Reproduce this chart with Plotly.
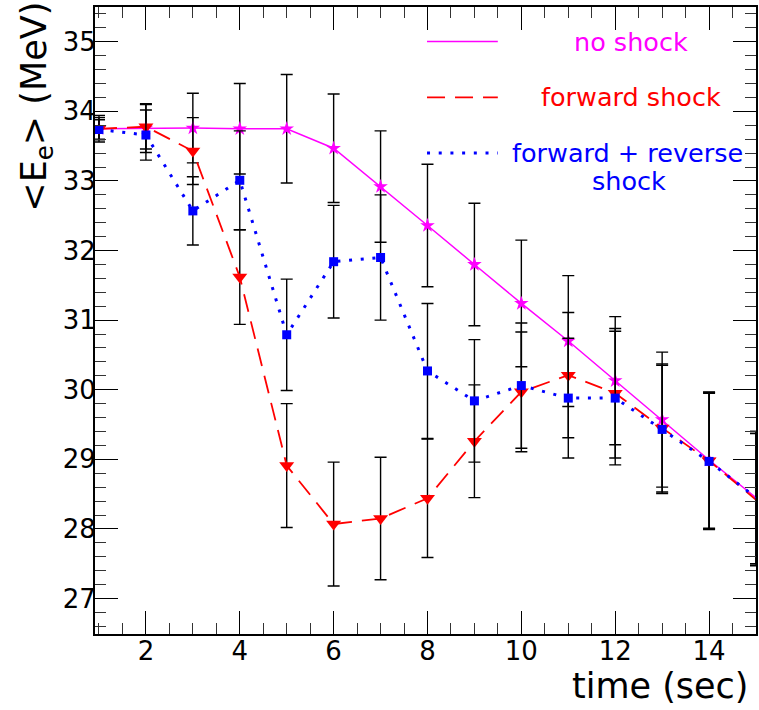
import plotly.graph_objects as go

# Mean electron-antineutrino energy vs. time for three supernova shock scenarios
time_s = [1, 2, 3, 4, 5, 6, 7, 8, 9, 10, 11, 12, 13, 14, 15]

no_shock = [33.75, 33.76, 33.76, 33.75, 33.75, 33.47, 32.92, 32.36, 31.80,
            31.24, 30.70, 30.13, 29.57, 28.99, 28.45]
no_shock_err = [0.19, 0.35, 0.50, 0.65, 0.78, 0.78, 0.80, 0.88, 0.88,
                0.91, 0.94, 0.92, 0.97, 0.98, 0.95]

forward = [33.75, 33.78, 33.43, 31.62, 28.91, 28.07, 28.15, 28.44, 29.26,
           29.97, 30.21, 29.95, 29.45, 28.98, 28.42]
forward_err = [0.16, 0.32, 0.48, 0.68, 0.89, 0.89, 0.88, 0.85, 0.81,
               0.86, 0.90, 0.93, 0.92, 0.98, 0.95]

fwd_rev = [33.74, 33.66, 32.57, 33.01, 30.79, 31.84, 31.90, 30.27, 29.84,
           30.06, 29.88, 29.88, 29.43, 28.97, 28.45]
fwd_rev_err = [0.14, 0.36, 0.49, 0.71, 0.80, 0.81, 0.90, 0.97, 0.88,
               0.90, 0.86, 0.96, 0.92, 0.98, 0.95]

FONT = "DejaVu Sans"
MAGENTA, RED, BLUE = "#ff00ff", "#ff0000", "#0000ff"

series = [
    ("no shock", no_shock, no_shock_err, MAGENTA,
     dict(width=1.5, dash="solid"), dict(symbol="star", size=11)),
    ("forward shock", forward, forward_err, RED,
     dict(width=1.8, dash="18px,10px"), dict(symbol="triangle-down", size=13)),
    ("forward + reverse shock", fwd_rev, fwd_rev_err, BLUE,
     dict(width=3, dash="3px,8.7px"), dict(symbol="square", size=9)),
]

fig = go.Figure()
for name, y, err, color, line, marker in series:
    # curve + black error bars (last point sits on the frame edge)
    fig.add_trace(go.Scatter(
        x=time_s, y=y, mode="lines", name=name, showlegend=False,
        line=dict(color=color, **line),
        error_y=dict(type="data", array=err, visible=True,
                     color="black", thickness=1.4, width=6),
    ))
    # markers for the points inside the frame
    fig.add_trace(go.Scatter(
        x=time_s[:-1], y=y[:-1], mode="markers", showlegend=False,
        marker=dict(color=color, line=dict(width=0), **marker),
    ))

axis_common = dict(
    showgrid=False, zeroline=False, showline=True, linecolor="black",
    linewidth=2, mirror="ticks", ticks="inside", tickcolor="black",
    tickwidth=1.4, ticklen=23,
    tickfont=dict(family=FONT, size=26, color="black"),
)

fig.update_xaxes(range=[0.915, 15.0], tick0=0, dtick=2,
                 ticklabelstandoff=-7,
                 minor=dict(ticks="inside", ticklen=11, dtick=0.5, tick0=0,
                            tickcolor="#333", tickwidth=1.4),
                 **axis_common)
fig.update_yaxes(range=[26.49, 35.5], tick0=0, dtick=1,
                 ticklabelstandoff=-8,
                 minor=dict(ticks="inside", ticklen=11, dtick=0.2, tick0=0,
                            tickcolor="#333", tickwidth=1.4),
                 **axis_common)

# hand-drawn legend: key line + centred coloured label
legend_rows = [
    (0.9450, "solid", 1.5, MAGENTA),
    (0.8560, "18px,10px", 1.8, RED),
    (0.7671, "3px,8.7px", 3, BLUE),
]
shapes = []
for yy, dash, w, c in legend_rows:
    shapes.append(dict(type="line", xref="paper", yref="paper",
                       x0=0.5023, x1=0.6094, y0=yy, y1=yy,
                       line=dict(color=c, width=w, dash=dash)))

legend_text = [
    (0.8115, 0.9442, "no shock", MAGENTA),
    (0.8107, 0.8565, "forward shock", RED),
    (0.8054, 0.7671, "forward + reverse", BLUE),
    (0.8084, 0.7225, "shock", BLUE),
]
annotations = []
for xx, yy, txt, c in legend_text:
    annotations.append(dict(x=xx, y=yy, xref="paper", yref="paper",
                            text=txt, showarrow=False, xanchor="center",
                            yanchor="middle",
                            font=dict(family=FONT, size=25.5, color=c)))

# axis titles placed at the axis ends
annotations.append(dict(x=0.9925, y=-0.0829, xref="paper", yref="paper",
                        text="time (sec)", showarrow=False, xanchor="right",
                        yanchor="middle",
                        font=dict(family=FONT, size=35, color="black")))
annotations.append(dict(x=-0.0882, y=1.0112, xref="paper", yref="paper",
                        text="&lt;E<sub>e</sub>&gt; (MeV)", showarrow=False,
                        textangle=-90, xanchor="center", yanchor="top",
                        font=dict(family=FONT, size=35, color="black")))

fig.update_layout(
    width=759, height=710,
    margin=dict(l=95, r=1, t=7, b=76),
    paper_bgcolor="white", plot_bgcolor="white",
    shapes=shapes, annotations=annotations,
    showlegend=False,
)

fig.write_html("out.html")
